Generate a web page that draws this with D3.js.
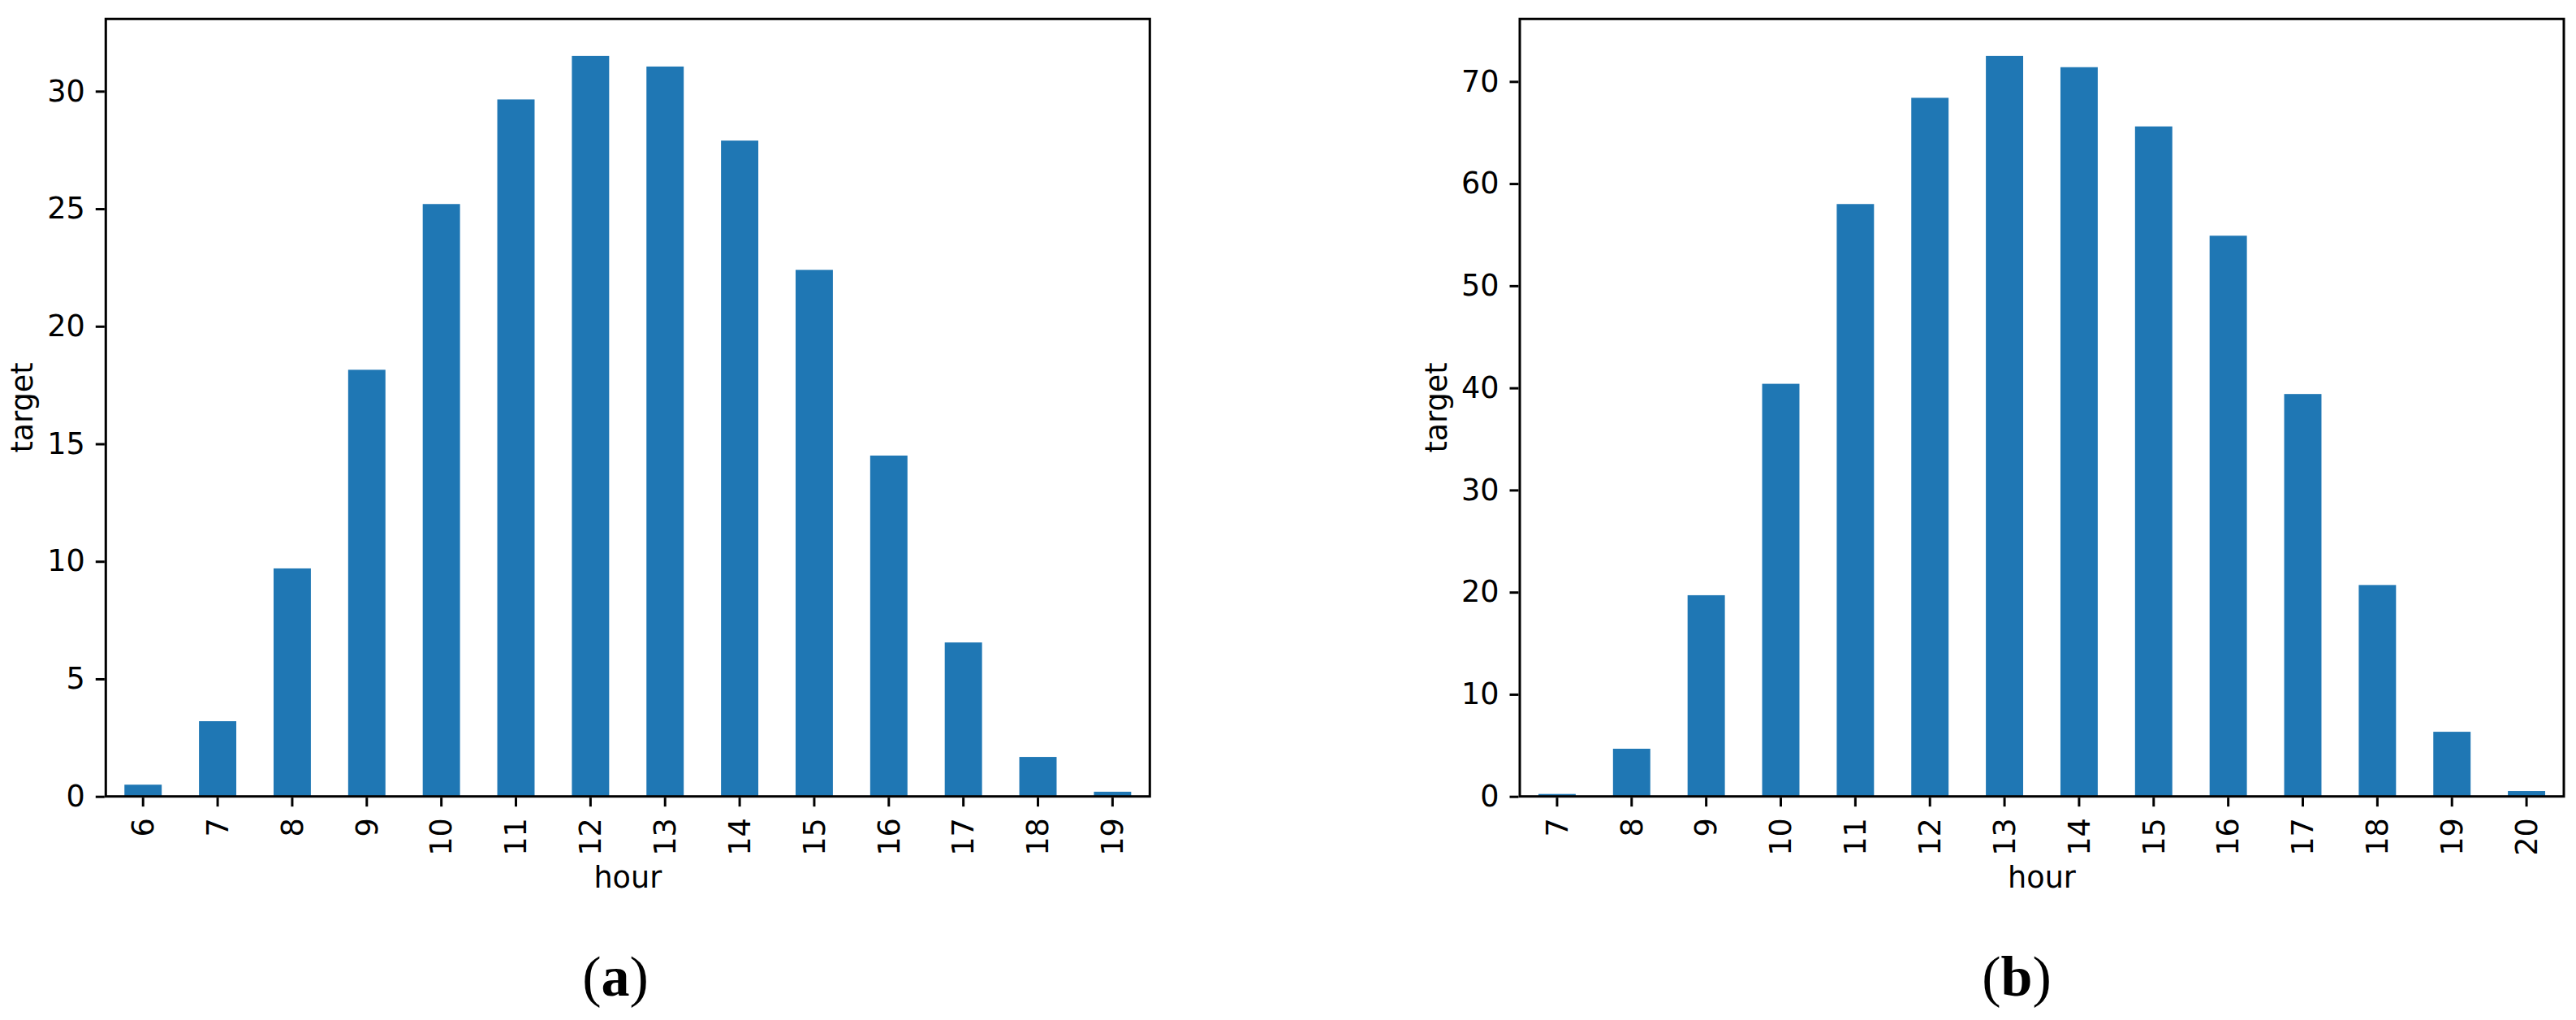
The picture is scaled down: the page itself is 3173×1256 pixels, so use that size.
<!DOCTYPE html>
<html>
<head>
<meta charset="utf-8">
<script src="https://cdn.jsdelivr.net/npm/d3@7"></script>
<style>
  html, body { margin: 0; padding: 0; background: #fff; }
  svg { display: block; }
  .tick text { font-family: "DejaVu Sans", sans-serif; }
</style>
</head>
<body>
<script>
// ---- Data ----
const hoursA = ["6","7","8","9","10","11","12","13","14","15","16","17","18","19"];
const targetA = [0.5, 3.2, 9.7, 18.15, 25.2, 29.65, 31.5, 31.05, 27.9, 22.4, 14.5, 6.55, 1.68, 0.2];
const yTicksA = [0, 5, 10, 15, 20, 25, 30];

const hoursB = ["7","8","9","10","11","12","13","14","15","16","17","18","19","20"];
const targetB = [0.24, 4.67, 19.7, 40.4, 58.0, 68.4, 72.5, 71.4, 65.6, 54.9, 39.4, 20.7, 6.33, 0.53];
const yTicksB = [0, 10, 20, 30, 40, 50, 60, 70];

const xLabel = "hour";
const yLabel = "target";
const panelLabels = ["a", "b"];

// ---- Layout ----
const W = 3173, H = 1256;
const FS = 36.6;
const plotTop = 23.3, plotBottom = 980.7;
const panels = [
  { hours: hoursA, values: targetA, ticks: yTicksA, left: 130.3, right: 1416.3, label: panelLabels[0], labelX: 758 },
  { hours: hoursB, values: targetB, ticks: yTicksB, left: 1872, right: 3158, label: panelLabels[1], labelX: 2484 }
];

const svg = d3.select("body").append("svg")
  .attr("width", W).attr("height", H)
  .attr("viewBox", `0 0 ${W} ${H}`);

svg.append("rect").attr("width", W).attr("height", H).attr("fill", "#fff");

panels.forEach(p => {
  const g = svg.append("g");
  const x = d3.scaleBand()
    .domain(p.hours)
    .range([p.left, p.right])
    .paddingInner(0.5)
    .paddingOuter(0.25);
  const ymax = d3.max(p.values) * 1.05;
  const y = d3.scaleLinear().domain([0, ymax]).range([plotBottom, plotTop]);

  // bars
  g.selectAll("rect.bar")
    .data(p.values)
    .join("rect")
    .attr("class", "bar")
    .attr("x", (d, i) => x(p.hours[i]))
    .attr("width", x.bandwidth())
    .attr("y", d => y(d))
    .attr("height", d => y(0) - y(d))
    .attr("fill", "#1f77b4");

  // y axis
  const yAxis = d3.axisLeft(y)
    .tickValues(p.ticks)
    .tickFormat(d3.format("d"))
    .tickSize(11)
    .tickPadding(13);
  const ya = g.append("g")
    .attr("transform", `translate(${p.left - 1.5},0)`)
    .call(yAxis);
  ya.select(".domain").remove();
  ya.selectAll(".tick line").attr("stroke", "#000").attr("stroke-width", 3);
  ya.selectAll(".tick text")
    .attr("font-size", FS)
    .attr("fill", "#000");

  // x axis
  const xAxis = d3.axisBottom(x).tickSize(11).tickPadding(0);
  const xa = g.append("g")
    .attr("transform", `translate(0,${plotBottom + 1.5})`)
    .call(xAxis);
  xa.select(".domain").remove();
  xa.selectAll(".tick line").attr("stroke", "#000").attr("stroke-width", 3);
  xa.selectAll(".tick text")
    .attr("font-size", FS)
    .attr("fill", "#000")
    .attr("text-anchor", "end")
    .attr("transform", "translate(0,25) rotate(-90)")
    .attr("x", 0)
    .attr("y", 0)
    .attr("dy", "0.35em");

  // spines
  g.append("rect")
    .attr("x", p.left).attr("y", plotTop)
    .attr("width", p.right - p.left).attr("height", plotBottom - plotTop)
    .attr("fill", "none").attr("stroke", "#000").attr("stroke-width", 3);

  // axis labels
  g.append("text")
    .attr("x", (p.left + p.right) / 2)
    .attr("y", 1093)
    .attr("text-anchor", "middle")
    .attr("font-family", "DejaVu Sans, sans-serif")
    .attr("font-size", FS)
    .text(xLabel);

  g.append("text")
    .attr("transform", `translate(${p.left - 90},${(plotTop + plotBottom) / 2}) rotate(-90)`)
    .attr("text-anchor", "middle")
    .attr("font-family", "DejaVu Sans, sans-serif")
    .attr("font-size", FS)
    .text(yLabel);

  // panel label (a)/(b)
  const t = g.append("text")
    .attr("x", p.labelX)
    .attr("y", 1226)
    .attr("text-anchor", "middle")
    .attr("font-family", "Liberation Serif, serif")
    .attr("font-size", 70);
  t.append("tspan").text("(");
  t.append("tspan").attr("font-weight", "bold").text(p.label);
  t.append("tspan").text(")");
});
</script>
</body>
</html>
